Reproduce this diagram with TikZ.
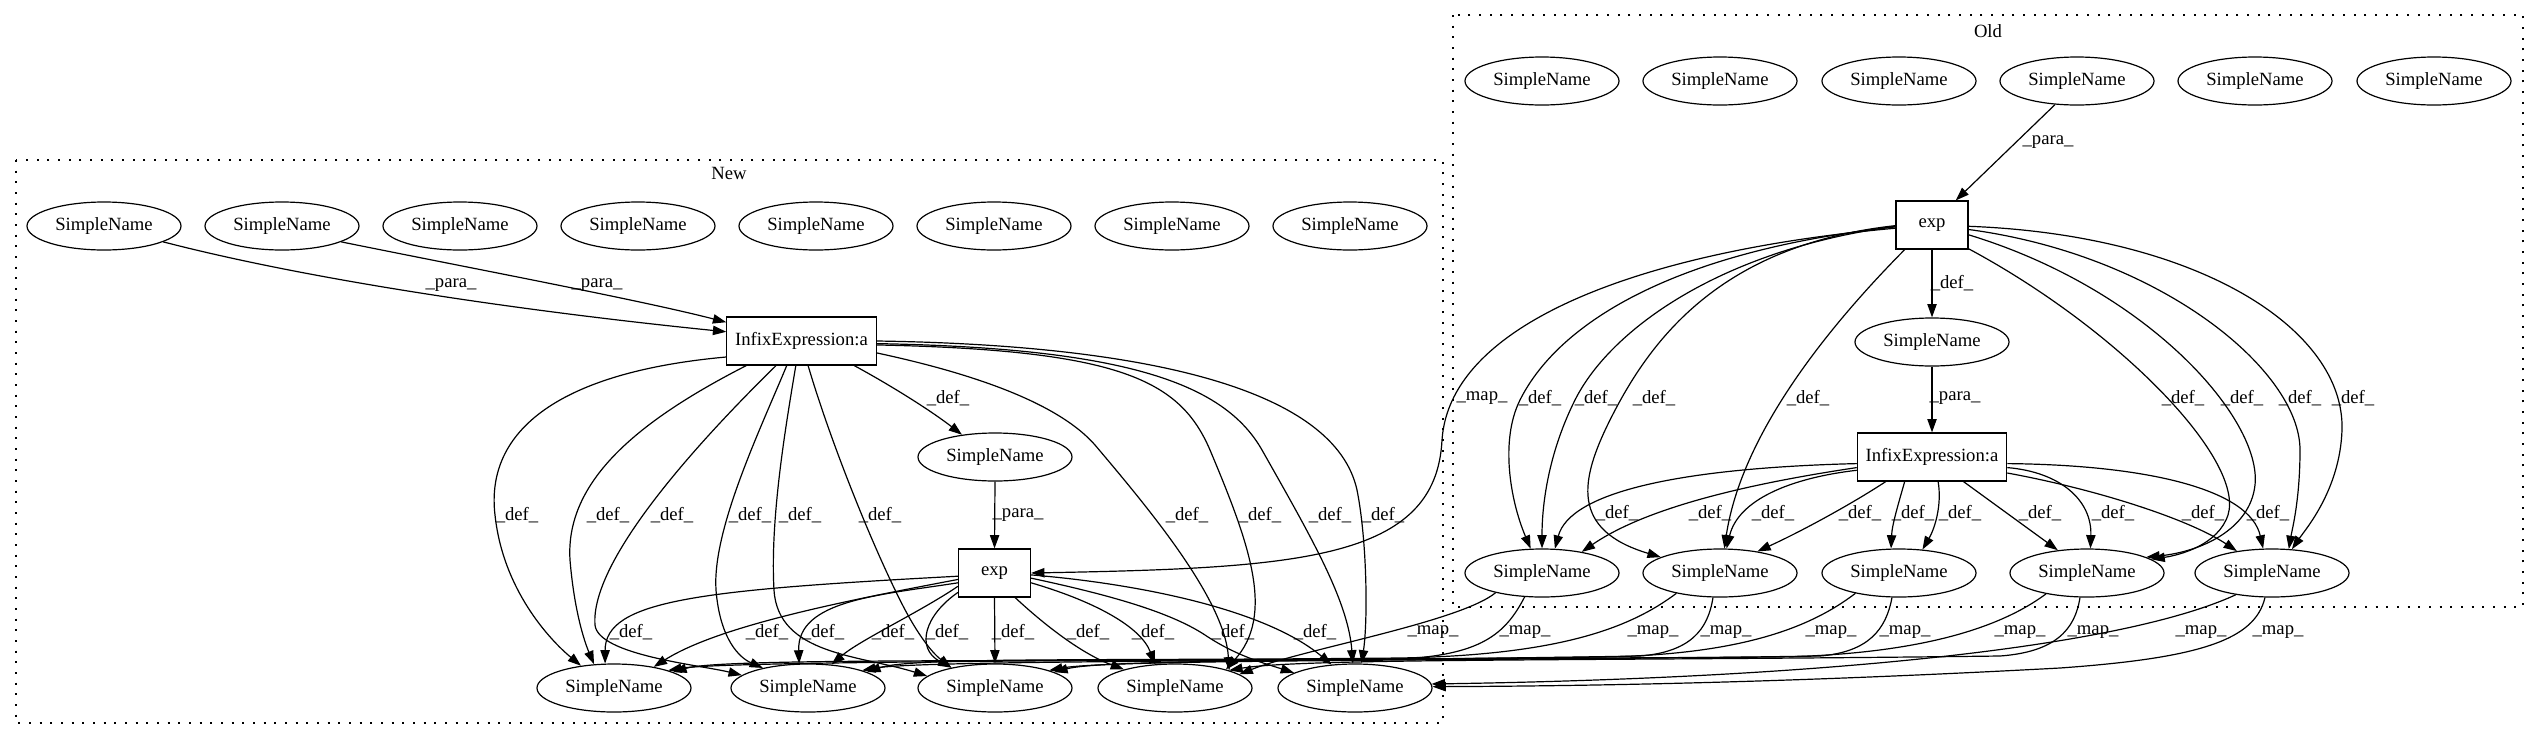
\documentclass[tikz,border=0pt]{standalone}
\usepackage{fontspec}
\setmainfont{Liberation Serif}
\usetikzlibrary{arrows.meta,shapes.geometric}
\begin{document}
\begin{tikzpicture}[x=0.75pt,y=-0.75pt,
  every node/.style={font=\fontsize{14pt}{16pt}\selectfont},
  sn/.style={ellipse,draw,line width=0.9pt,minimum width=115.5pt,minimum height=36pt,inner sep=0pt},
  bx/.style={rectangle,draw,line width=0.9pt,minimum height=36pt,inner sep=0pt},
  e/.style={-{Triangle[length=10pt,width=7pt]},line width=0.9pt},
  lb/.style={inner sep=0pt},
  cl/.style={line width=1pt,dash pattern=on 1.5pt off 6.5pt}]
\fill[white] (0,0) rectangle (2539,740);
\useasboundingbox (0,0) rectangle (2539,740);
% clusters
\draw[cl] (16,160) rectangle (1443,723);
\draw[cl] (1453,15) rectangle (2523,607);
\node[lb] (newlab) at (729,173) {New};
\node[lb] (oldlab) at (1988,31) {Old};
% ---------------- New nodes
\foreach \x [count=\i] in {104,282,460,638,816,994,1172,1350}
  \node[sn] (nt\i) at (\x,226) {SimpleName};
\node[bx,minimum width=112pt] (ni) at (801.5,341) {InfixExpression:a};
\node[sn] (nm) at (995,457) {SimpleName};
\node[bx,minimum width=54pt] (ne) at (994.5,573) {exp};
\foreach \x [count=\i] in {614,808,995,1175,1355}
  \node[sn] (nb\i) at (\x,688) {SimpleName};
% ---------------- Old nodes
\foreach \x [count=\i] in {1542,1720,1899,2077,2255,2434}
  \node[sn] (ot\i) at (\x,81) {SimpleName};
\node[bx,minimum width=54pt] (oe) at (1932,225) {exp};
\node[sn] (om) at (1932,342) {SimpleName};
\node[bx,minimum width=112pt] (oi) at (1932,457) {InfixExpression:a};
\foreach \x [count=\i] in {1542,1720,1899,2087,2272}
  \node[sn] (ob\i) at (\x,573) {SimpleName};
% ---------------- labels
\node[lb] (lp1) at (451,285) {\_para\_};
\node[lb] (lp2) at (597,285) {\_para\_};
\node[lb] (lnd) at (948,398) {\_def\_};
\node[lb] (lnp) at (1018,515) {\_para\_};
\foreach \x [count=\i] in {517,608,672,750,800,880,1187,1260,1330,1383}
  \node[lb] (lni\i) at (\x,515) {\_def\_};
\foreach \x [count=\i] in {631,767,823,893,947,1013,1088,1153,1233,1315}
  \node[lb] (lne\i) at (\x,632) {\_def\_};
\node[lb] (lop) at (2048,142) {\_para\_};
\node[lb] (lod) at (1952,283) {\_def\_};
\node[lb] (lop2) at (1955,398) {\_para\_};
\node[lb] (lom) at (1482,398) {\_map\_};
\foreach \x [count=\i] in {1540,1596,1654,1808,2183,2242,2300,2353}
  \node[lb] (loe\i) at (\x,398) {\_def\_};
\foreach \x [count=\i] in {1617,1710,1773,1860,1913,1960,2040,2113,2203,2268}
  \node[lb] (loi\i) at (\x,513) {\_def\_};
\foreach \x [count=\i] in {1433,1525,1653,1726,1831,1905,2020,2093,2201,2278}
  \node[lb] (lmp\i) at (\x,632) {\_map\_};
% ---------------- New edges
\draw[e] (nt1.-15) .. controls (330,285) and (560,315) .. (ni.173);
\draw[e] (nt2.-15) .. controls (470,268) and (640,300) .. (ni.166);
\draw[e] (ni.-25) .. controls (890,385) and (930,410) .. (nm.146);
\draw[e] (nm.south) -- (ne.north);
% Infix -> bottom
\draw[e] (ni.192) .. controls (560,372) and (485,430) .. (495,515) .. controls (503,590) and (550,640) .. (nb1.146);
\draw[e] (ni.204) .. controls (640,420) and (565,480) .. (570,560) .. controls (575,620) and (588,650) .. (nb1.130);
\draw[e] (ni.224) .. controls (700,440) and (590,560) .. (595,625) .. controls (598,655) and (700,665) .. (nb2.169);
\draw[e] (ni.239) .. controls (760,430) and (712,530) .. (716,590) .. controls (720,640) and (740,658) .. (nb2.156);
\draw[e] (ni.257) .. controls (785,430) and (770,520) .. (774,590) .. controls (778,655) and (860,655) .. (nb3.170);
\draw[e] (ni.285) .. controls (830,440) and (870,540) .. (900,600) .. controls (920,640) and (935,655) .. (nb3.155);
\draw[e] (ni.351) .. controls (980,375) and (1060,405) .. (1095,445) .. controls (1150,510) and (1225,600) .. (nb4.18);
\draw[e] (ni.357) .. controls (1120,350) and (1180,380) .. (1210,450) .. controls (1250,545) and (1275,615) .. (nb4.20);
\draw[e] (ni.358) .. controls (1130,348) and (1225,385) .. (1262,450) .. controls (1310,535) and (1348,600) .. (nb5.95);
\draw[e] (ni.0) .. controls (1150,345) and (1335,390) .. (1357,490) .. controls (1367,540) and (1368,620) .. (nb5.75);
% exp -> bottom
\draw[e] (ne.185) .. controls (700,590) and (605,600) .. (nb1.110);
\draw[e] (ne.190) .. controls (850,600) and (720,625) .. (nb1.28);
\draw[e] (ne.195) .. controls (880,595) and (797,600) .. (nb2.110);
\draw[e] (ne.200) .. controls (920,612) and (860,640) .. (nb2.45);
\draw[e] (ne.208) .. controls (925,615) and (915,648) .. (nb3.155);
\draw[e] (ne.south) -- (nb3.north);
\draw[e] (ne.-50) .. controls (1050,630) and (1085,655) .. (nb4.160);
\draw[e] (ne.-15) .. controls (1090,600) and (1140,625) .. (nb4.130);
\draw[e] (ne.-8) .. controls (1110,595) and (1170,612) .. (1205,635) .. controls (1235,655) and (1260,662) .. (nb5.166);
\draw[e] (ne.-3) .. controls (1120,582) and (1260,605) .. (nb5.135);
% ---------------- Old edges
\draw[e] (ot4.227) -- (oe.46);
\draw[e] (oe.south) -- (om.north);
\draw[e] (om.south) -- (oi.north);
\draw[e] (oe.185) .. controls (1650,250) and (1450,320) .. (1442,440) .. controls (1436,560) and (1300,568) .. (ne.east);
% exp -> bottom
\draw[e] (oe.183) .. controls (1680,250) and (1560,320) .. (1520,400) .. controls (1500,440) and (1510,500) .. (ob1.115);
\draw[e] (oe.182) .. controls (1720,250) and (1610,330) .. (1575,400) .. controls (1550,450) and (1542,500) .. (ob1.north);
\draw[e] (oe.181) .. controls (1720,245) and (1650,340) .. (1610,420) .. controls (1580,480) and (1570,530) .. (ob2.165);
\draw[e] (oe.222) .. controls (1835,320) and (1742,430) .. (ob2.80);
\draw[e] (oe.-33) .. controls (2120,330) and (2245,460) .. (2228,515) .. controls (2218,545) and (2180,555) .. (ob4.12);
\draw[e] (oe.-15) .. controls (2150,290) and (2262,420) .. (2255,485) .. controls (2250,530) and (2200,552) .. (ob4.15);
\draw[e] (oe.-7) .. controls (2160,255) and (2300,370) .. (2300,450) .. controls (2300,500) and (2292,530) .. (ob5.55);
\draw[e] (oe.-2) .. controls (2200,235) and (2345,330) .. (2342,430) .. controls (2340,490) and (2305,530) .. (ob5.50);
% Infix -> bottom
\draw[e] (oi.185) .. controls (1680,468) and (1570,492) .. (ob1.62);
\draw[e] (oi.188) .. controls (1760,482) and (1650,505) .. (ob1.28);
\draw[e] (oi.190) .. controls (1790,478) and (1738,500) .. (ob2.75);
\draw[e] (oi.208) .. controls (1850,505) and (1800,532) .. (ob2.30);
\draw[e] (oi.222) .. controls (1898,505) and (1892,525) .. (ob3.108);
\draw[e] (oi.284) .. controls (1942,505) and (1935,528) .. (ob3.45);
\draw[e] (oi.322) -- (ob4.142);
\draw[e] (oi.352) .. controls (2060,472) and (2092,500) .. (ob4.82);
\draw[e] (oi.348) .. controls (2100,490) and (2190,520) .. (ob5.148);
\draw[e] (oi.355) .. controls (2150,465) and (2250,490) .. (ob5.110);
% ---------------- map edges Old -> New
\draw[e] (ob1.203) .. controls (1460,622) and (1300,650) .. (nb4.12);
\draw[e] (ob1.234) .. controls (1505,635) and (1480,655) .. (1400,659) .. controls (1000,662) and (720,658) .. (nb1.15);
\draw[e] (ob2.205) .. controls (1630,628) and (1560,655) .. (1400,658) .. controls (1100,661) and (910,657) .. (nb2.15);
\draw[e] (ob2.254) .. controls (1708,630) and (1690,652) .. (1640,656) .. controls (1300,662) and (920,660) .. (nb2.18);
\draw[e] (ob3.205) .. controls (1810,628) and (1740,655) .. (1600,657) .. controls (1300,661) and (1100,660) .. (nb3.15);
\draw[e] (ob3.254) .. controls (1886,630) and (1868,652) .. (1820,656) .. controls (1500,661) and (1110,659) .. (nb3.18);
\draw[e] (ob4.207) .. controls (2000,628) and (1920,654) .. (1780,657) .. controls (1300,660) and (730,660) .. (nb1.18);
\draw[e] (ob4.254) .. controls (2075,630) and (2055,652) .. (2000,656) .. controls (1600,661) and (1300,658) .. (nb4.18);
\draw[e] (ob5.211) .. controls (2120,648) and (1820,678) .. (nb5.3);
\draw[e] (ob5.254) .. controls (2255,640) and (2200,658) .. (2060,668) .. controls (1800,682) and (1600,686) .. (nb5.1);
\end{tikzpicture}
\end{document}
